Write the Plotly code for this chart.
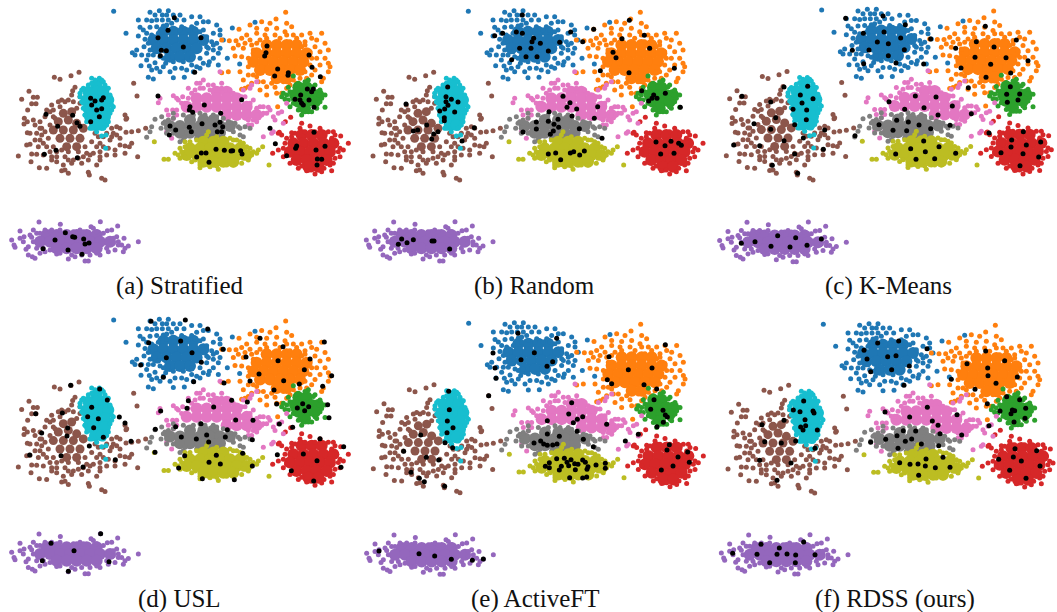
import plotly.graph_objects as go
from plotly.subplots import make_subplots

blue_pts = [(341,34),(378,100),(765,67),(697,84),(719,192),(478,32),(505,32),(487,45),(450,37),(415,60),(455,62),(470,60),(487,60),(420,82),(450,82),(470,80),(490,78),(415,108),(435,118),(432,140),(410,150),(397,158),(425,165),(445,165),(440,180),(423,197),(448,198),(465,188),(470,205),(445,232),(460,237),(490,200),(497,190),(520,233),(525,205),(545,205),(553,232),(580,215),(600,205),(575,195),(625,195),(628,185),(655,195),(640,175),(682,175),(655,160),(640,150),(620,160),(650,130),(635,125),(660,105),(650,75),(660,90),(625,65),(610,65),(590,70),(575,50),(552,60),(530,60),(515,70),(505,60),(455,105),(465,145),(480,170),(500,180),(520,185),(550,185),(575,175),(600,175),(620,140),(620,110),(610,90),(575,80),(545,80),(500,90),(475,100)]
blue_mid = [(440,100),(445,130),(450,150),(460,165),(475,155),(490,175),(505,170),(625,145),(640,135),(600,95),(585,90),(565,90),(540,90),(520,85),(500,75),(440,60),(430,90),(465,45),(500,45),(520,45),(540,45),(600,50),(640,100),(670,120),(660,145),(610,190),(590,200),(560,210),(510,215),(480,215),(455,210),(405,165)]
blue_core = [(490,95),(520,95),(550,95),(580,95),(460,120),(490,120),(520,120),(550,120),(580,120),(610,120),(470,145),(500,145),(530,145),(560,145),(590,145),(510,170),(540,170),(570,170)]

orange_pts = [(857,37),(785,65),(828,57),(717,88),(750,75),(665,120),(688,122),(708,122),(725,115),(740,105),(770,100),(800,88),(830,85),(875,80),(855,95),(880,105),(905,105),(930,100),(965,100),(935,115),(915,125),(945,140),(985,150),(960,155),(975,175),(950,175),(960,195),(990,200),(985,215),(945,210),(970,235),(965,245),(935,225),(920,235),(900,235),(880,240),(860,265),(830,280),(800,285),(780,270),(755,250),(745,260),(725,268),(735,265),(730,240),(720,215),(685,215),(665,218),(745,225),(770,230),(790,245),(725,170),(705,168),(730,145),(755,135),(780,120),(800,115),(840,115),(870,125),(905,140),(930,195),(905,215),(850,245),(815,250),(833,320)]
orange_mid = [(735,130),(750,120),(760,150),(745,175),(745,200),(760,225),(775,245),(800,260),(825,262),(845,280),(870,255),(890,250),(915,215),(935,175),(930,155),(915,135),(890,115),(860,105),(825,105),(795,105),(770,130),(950,120),(975,130),(985,190),(715,135),(700,145),(810,70),(860,70),(770,85)]
orange_core = [(800,135),(830,135),(860,135),(890,135),(770,160),(800,160),(830,160),(860,160),(890,160),(920,160),(760,185),(790,185),(820,185),(850,185),(880,185),(910,185),(780,210),(810,210),(840,210),(870,210),(900,210),(830,235),(860,235)]

green_pts = [(880,228),(925,240),(895,250),(865,262),(850,280),(845,290),(855,298),(880,298),(975,285),(965,295),(975,322),(950,325),(935,335),(905,345),(895,330),(870,320),(960,270),(945,255)]
green_mid = [(870,275),(860,285),(890,255),(915,245),(940,260),(958,285),(960,305),(945,320),(925,335),(900,325),(880,310),(865,300)]
green_core = [(895,262),(920,262),(885,285),(910,285),(935,285),(955,285),(895,305),(920,305),(945,305),(915,325)]

red_pts = [(872,352),(856,365),(905,370),(835,400),(818,460),(835,450),(850,470),(870,490),(895,505),(920,512),(945,522),(972,505),(995,512),(1000,490),(1020,470),(1020,445),(1045,430),(1022,408),(1005,405),(985,395),(960,385),(930,378),(900,385),(875,398),(855,430),(838,397)]
red_mid = [(860,415),(875,410),(885,400),(915,395),(945,395),(975,400),(995,415),(1010,430),(1015,455),(1005,475),(990,495),(965,515),(935,510),(905,498),(880,485),(860,460),(850,445),(1030,450),(1000,395),(845,405)]
red_core = [(905,405),(935,405),(965,405),(880,430),(910,430),(940,430),(970,430),(1000,430),(870,455),(900,455),(930,455),(960,455),(990,455),(890,480),(920,480),(950,480),(980,480),(925,500),(955,500)]

purple_pts = [(117,666),(181,673),(273,680),(301,665),(353,678),(322,692),(60,693),(100,690),(72,710),(35,720),(42,735),(45,742),(78,748),(85,765),(97,770),(105,775),(120,760),(135,755),(170,762),(205,777),(225,770),(255,783),(265,783),(300,765),(325,755),(345,750),(370,755),(385,738),(375,745),(415,725),(372,715),(350,710),(335,690),(280,685),(240,690),(135,690),(150,695),(95,712),(110,700),(70,725),(340,730),(355,725)]
purple_mid = [(90,705),(100,725),(110,745),(120,700),(130,745),(150,750),(180,760),(215,765),(245,765),(270,765),(290,760),(320,745),(340,715),(355,735),(310,700),(290,695),(250,695),(220,695),(180,690),(155,690),(365,735),(60,715),(85,740)]
purple_core = [(140,705),(170,705),(200,705),(230,705),(260,705),(290,705),(120,725),(150,725),(180,725),(210,725),(240,725),(270,725),(300,725),(330,725),(170,745),(200,745),(230,745),(260,745),(290,745)]

brown_pts = [(237,217),(213,227),(163,232),(180,238),(87,274),(100,292),(112,292),(65,298),(95,311),(108,311),(83,330),(73,355),(82,365),(72,372),(82,398),(80,435),(90,433),(55,468),(95,462),(110,463),(93,485),(118,503),(140,505),(130,465),(155,480),(185,512),(195,510),(205,520),(190,495),(215,490),(235,475),(265,517),(268,525),(305,535),(315,540),(290,495),(300,480),(320,465),(345,465),(345,450),(375,438),(395,430),(388,440),(413,470),(360,435),(350,405),(378,397),(395,395),(415,392),(437,385),(360,385),(335,385),(375,345),(378,358),(411,288),(401,250),(225,262),(218,272),(215,285),(175,305),(155,315),(150,335),(140,330),(120,365),(110,400),(140,440),(170,470),(260,460),(280,460),(300,430),(330,420),(350,380),(320,400),(125,385),(160,350)]
brown_mid = [(135,350),(120,385),(105,420),(115,440),(130,430),(150,455),(170,485),(195,470),(220,480),(250,470),(270,465),(300,455),(310,440),(325,445),(335,410),(310,410),(340,400),(195,305),(185,300),(160,330),(220,305),(240,290),(205,300),(290,440),(265,480),(245,490),(170,455),(300,470),(360,415),(380,355),(100,360),(90,400),(105,375),(375,460),(145,415),(125,405),(160,440),(185,450),(205,455),(235,455),(255,440),(275,425),(295,410),(285,400),(150,375),(165,355),(135,395),(180,320),(230,325),(240,310),(205,480),(155,470),(120,420)]
brown_core = [(190,340),(215,335),(175,365),(205,360),(230,370),(160,390),(190,390),(220,390),(250,385),(180,415),(210,415),(240,415),(200,440),(230,440)]

pink_pts = [(660,215),(610,240),(590,250),(565,265),(575,280),(520,287),(530,295),(475,308),(480,295),(500,330),(518,330),(530,345),(555,310),(548,290),(600,265),(630,270),(665,250),(690,270),(750,265),(770,245),(755,255),(735,290),(760,300),(780,320),(805,322),(790,340),(770,345),(760,360),(745,375),(820,350),(835,340),(845,335),(860,310),(825,360),(790,410),(815,400),(820,395),(850,370),(810,330),(515,415),(500,395),(530,395)]
pink_mid = [(530,330),(545,310),(565,295),(585,270),(610,265),(640,255),(665,265),(700,280),(725,290),(750,310),(770,325),(785,345),(770,365),(755,375),(745,360),(520,355),(505,345),(535,300),(600,250),(625,255),(730,270),(790,320),(800,340)]
pink_core = [(650,275),(680,275),(590,295),(620,295),(650,295),(680,295),(710,295),(560,320),(590,320),(620,320),(650,320),(680,320),(710,320),(740,320),(680,345),(710,345),(740,345),(770,345)]

gray_pts = [(440,412),(450,395),(455,380),(465,358),(485,350),(490,370),(483,385),(520,340),(600,340),(640,345),(670,355),(705,370),(735,380),(750,385),(720,405),(730,410),(540,425),(550,420),(500,400)]
gray_mid = [(495,365),(505,360),(520,355),(550,345),(580,345),(615,345),(650,350),(685,365),(715,380),(500,385),(520,400),(555,410),(590,415),(625,410),(660,405),(700,395),(720,385)]
gray_core = [(570,360),(610,360),(640,360),(510,378),(540,378),(570,378),(600,378),(630,378),(660,378),(690,378),(540,398),(570,398),(600,398),(630,398),(660,398)]

olive_pts = [(463,425),(492,478),(505,478),(807,495),(788,440),(775,450),(770,460),(755,465),(745,480),(725,490),(700,495),(655,508),(630,500),(600,503),(575,485),(540,475),(525,460),(540,445),(555,425),(625,395),(700,420),(740,440),(720,425)]
olive_mid = [(545,455),(555,440),(570,425),(590,420),(585,480),(600,495),(625,495),(650,498),(680,495),(710,480),(730,475),(745,465),(760,455),(750,445),(730,430),(710,420),(690,415),(650,410),(620,405),(535,465),(555,470)]
olive_core = [(610,425),(640,425),(670,425),(570,445),(600,445),(630,445),(660,445),(690,445),(720,445),(560,465),(590,465),(620,465),(650,465),(680,465),(710,465),(740,465),(610,485),(640,485),(670,485),(700,485)]

cyan_pts = [(305,408),(318,405),(317,445),(340,320),(298,235),(275,235),(310,245),(240,280),(322,265),(250,265),(330,290),(335,330),(320,375),(250,310),(255,345),(270,385)]
cyan_mid = [(245,270),(240,290),(245,305),(250,325),(255,345),(260,365),(275,385),(290,395),(310,385),(325,365),(330,340),(335,315),(330,285),(325,265),(315,255),(275,250),(265,255),(285,240),(305,240)]
cyan_core = [(290,255),(265,275),(290,275),(310,275),(260,300),(285,300),(310,300),(325,300),(265,325),(290,325),(315,325),(270,350),(295,350),(315,350),(285,375),(305,375)]

clusters = [(blue_pts + blue_mid, blue_core), (orange_pts + orange_mid, orange_core), (green_pts + green_mid, green_core),
            (red_pts + red_mid, red_core), (purple_pts + purple_mid, purple_core), (brown_pts + brown_mid, brown_core),
            (pink_pts + pink_mid, pink_core), (gray_pts + gray_mid, gray_core), (olive_pts + olive_mid, olive_core),
            (cyan_pts + cyan_mid, cyan_core)]
colors = ["#1f77b4", "#ff7f0e", "#2ca02c", "#d62728", "#9467bd", "#8c564b", "#e377c2", "#7f7f7f", "#bcbd22", "#17becf"]
core_sizes = [12, 12, 12, 12, 12, 9, 12, 12, 12, 12]

black_a = [(523,53),(504,91),(474,113),(603,113),(550,141),(484,151),(499,152),(481,167),(584,217),(801,138),(798,158),(794,168),(927,165),(936,202),(833,207),(824,228),(865,218),(864,226),(961,230),(922,267),(940,267),(935,275),(885,298),(902,285),(927,300),(900,300),(905,310),(910,315),(942,322),(725,299),(474,288),(570,320),(568,330),(578,337),(613,315),(662,340),(510,378),(527,390),(568,382),(574,395),(606,371),(645,375),(660,367),(668,380),(652,395),(665,395),(508,405),(810,385),(826,431),(942,397),(890,438),(887,445),(948,450),(975,439),(952,477),(965,478),(951,495),(860,467),(648,448),(673,451),(693,453),(698,452),(722,452),(726,462),(590,471),(604,459),(618,459),(627,487),(272,295),(310,293),(285,303),(275,315),(305,300),(290,330),(305,326),(298,350),(272,365),(138,343),(218,346),(231,368),(240,379),(173,379),(168,451),(133,463),(232,473),(196,698),(165,720),(218,710),(224,712),(251,717),(255,732),(267,729),(129,746),(204,750),(246,763)]
black_b = [(511,45),(428,107),(452,100),(493,96),(511,100),(656,96),(692,125),(623,127),(545,115),(540,125),(565,130),(503,145),(537,145),(589,153),(479,179),(522,170),(555,170),(725,88),(832,61),(877,106),(810,116),(783,157),(792,173),(893,145),(967,205),(745,212),(831,218),(869,272),(905,285),(900,295),(890,303),(915,295),(940,280),(985,322),(633,289),(654,308),(645,322),(674,327),(737,320),(727,355),(591,335),(589,364),(553,366),(618,358),(660,348),(606,373),(620,382),(553,387),(604,393),(595,403),(513,396),(682,386),(750,415),(912,426),(957,424),(939,437),(980,430),(988,436),(926,462),(966,460),(697,453),(683,465),(665,455),(655,459),(611,459),(589,462),(626,479),(287,261),(282,290),(298,298),(318,306),(282,305),(288,316),(278,327),(263,333),(308,336),(277,353),(277,362),(162,312),(224,375),(197,390),(184,393),(258,395),(245,402),(239,417),(367,383),(330,423),(149,717),(184,719),(165,728),(139,733),(240,723),(246,723),(293,747)]
black_c = [(425,55),(537,48),(604,74),(478,100),(540,96),(590,114),(520,126),(553,131),(680,117),(445,151),(495,150),(601,149),(553,167),(576,189),(479,191),(659,192),(844,79),(937,120),(817,125),(870,141),(755,145),(813,172),(906,173),(972,182),(860,193),(771,204),(920,219),(846,232),(793,263),(919,260),(947,282),(942,300),(908,283),(910,307),(634,288),(696,291),(555,305),(660,323),(745,318),(602,328),(702,345),(802,341),(525,374),(578,361),(613,366),(645,375),(680,386),(738,376),(567,391),(608,392),(453,407),(855,399),(958,395),(923,420),(921,441),(967,435),(1010,426),(891,458),(957,461),(1004,471),(948,497),(659,423),(705,440),(620,446),(664,455),(755,460),(575,462),(636,478),(692,476),(311,259),(289,285),(327,296),(294,309),(267,328),(308,330),(307,359),(272,374),(240,261),(114,289),(200,306),(215,353),(150,371),(200,388),(362,390),(298,414),(240,422),(167,437),(89,435),(358,448),(272,462),(205,496),(281,520),(221,707),(275,713),(153,725),(112,730),(352,717),(201,739),(258,741),(309,736)]
black_d = [(453,49),(556,45),(623,72),(446,113),(542,108),(576,143),(499,158),(604,172),(669,133),(422,180),(490,217),(581,230),(780,100),(973,111),(849,125),(738,156),(834,167),(930,162),(777,207),(913,194),(995,212),(750,228),(851,227),(672,234),(898,237),(968,244),(822,255),(830,297),(908,296),(892,309),(926,305),(914,317),(983,299),(987,338),(742,291),(695,286),(565,287),(561,310),(482,318),(641,306),(707,345),(759,346),(603,356),(527,365),(466,373),(682,374),(838,357),(878,367),(544,396),(589,402),(620,390),(626,411),(676,396),(757,404),(465,442),(393,409),(960,401),(1031,425),(910,447),(951,467),(1023,487),(874,497),(941,528),(832,449),(649,451),(728,445),(554,452),(627,472),(661,477),(757,483),(536,489),(607,521),(703,524),(299,252),(275,307),(322,285),(263,335),(295,341),(281,368),(310,397),(268,423),(212,241),(107,326),(187,324),(358,336),(375,354),(203,369),(201,393),(125,384),(89,450),(183,452),(346,464),(249,486),(302,686),(153,715),(222,737),(127,767),(327,770),(205,799)]
black_e = [(498,85),(614,100),(423,144),(547,143),(507,164),(602,170),(585,184),(429,189),(432,220),(940,119),(771,155),(900,189),(829,194),(766,224),(779,236),(876,239),(914,252),(906,284),(896,313),(933,316),(940,330),(946,336),(934,352),(915,365),(859,388),(820,408),(410,272),(659,293),(650,327),(692,335),(676,343),(664,353),(586,347),(764,358),(675,379),(586,387),(622,394),(694,403),(546,414),(566,408),(575,417),(586,421),(602,420),(615,417),(724,425),(952,419),(945,435),(1007,441),(978,456),(1012,472),(963,483),(928,495),(614,461),(637,460),(657,464),(592,473),(580,484),(592,488),(628,484),(622,495),(645,472),(650,482),(668,476),(678,478),(692,465),(700,472),(708,485),(705,493),(670,494),(732,480),(760,475),(760,490),(653,518),(692,519),(704,516),(290,259),(292,314),(286,348),(303,368),(285,383),(279,413),(302,428),(206,390),(155,439),(223,457),(260,465),(177,502),(202,520),(217,530),(278,544),(81,738),(201,746),(248,753),(298,763),(361,766),(394,762)]
black_f = [(521,114),(584,108),(669,131),(480,136),(489,162),(551,155),(576,152),(616,183),(563,194),(500,200),(600,241),(845,138),(789,176),(902,167),(851,189),(852,212),(940,216),(742,223),(876,235),(813,253),(850,296),(908,275),(947,284),(888,318),(925,315),(932,317),(965,310),(921,326),(963,340),(930,351),(855,362),(543,321),(670,307),(617,336),(759,329),(685,348),(702,361),(708,386),(773,390),(598,377),(635,378),(579,392),(545,403),(623,402),(604,409),(652,417),(500,412),(704,422),(582,430),(933,431),(998,437),(928,456),(884,463),(952,468),(1008,483),(917,496),(966,520),(666,462),(717,457),(587,473),(618,478),(642,477),(664,483),(694,488),(738,487),(644,511),(299,288),(268,315),(288,320),(327,318),(330,324),(303,344),(305,362),(290,366),(297,375),(340,375),(174,359),(240,346),(275,408),(182,410),(232,414),(333,430),(167,466),(261,474),(219,526),(299,711),(171,718),(226,729),(86,745),(159,748),(219,748),(249,747),(275,750),(333,749),(197,773),(274,773)]
black_sets = [black_a, black_b, black_c, black_d, black_e, black_f]

captions = ["(a) Stratified", "(b) Random", "(c) K-Means", "(d) USL", "(e) ActiveFT", "(f) RDSS (ours)"]
caption_x = [179.5, 534.5, 888, 179.5, 535, 895]
caption_y = [286, 286, 286, 599, 599, 599]
# each panel of the source was placed slightly differently: x shift, y scale, y shift
panel_dx = [0, 8, 12, 0, 9, 17]
panel_sy = [1.0, 1.0, 1.008, 1.016, 1.005, 1.0]
panel_dy = [0, 0, -4.3, 10.5, 20.8, 24]

W, H = 1057, 612
fig = make_subplots(rows=2, cols=3, horizontal_spacing=0, vertical_spacing=0)
for i in range(6):
    r, c = i // 3 + 1, i % 3 + 1
    dx, sy, dy = panel_dx[i], panel_sy[i], panel_dy[i]
    for (pts, core), col, cs in zip(clusters, colors, core_sizes):
        fig.add_trace(go.Scatter(x=[p[0] + dx for p in core], y=[p[1] * sy + dy for p in core], mode="markers",
                                 marker=dict(size=cs, color=col), cliponaxis=False, hoverinfo="skip"), row=r, col=c)
        fig.add_trace(go.Scatter(x=[p[0] + dx for p in pts], y=[p[1] * sy + dy for p in pts], mode="markers",
                                 marker=dict(size=5, color=col), cliponaxis=False, hoverinfo="skip"), row=r, col=c)
    fig.add_trace(go.Scatter(x=[p[0] for p in black_sets[i]], y=[p[1] for p in black_sets[i]], mode="markers",
                             marker=dict(size=5, color="#000000"), cliponaxis=False, hoverinfo="skip"), row=r, col=c)
    x0 = 352 * (c - 1)
    y0 = 305 * (r - 1)
    fig.update_xaxes(range=[0, 1056], domain=[x0 / W, (x0 + 352) / W], visible=False, row=r, col=c)
    fig.update_yaxes(range=[915, 0], domain=[1 - (y0 + 305) / H, 1 - y0 / H], visible=False, row=r, col=c)
    fig.add_annotation(x=caption_x[i] / W, y=1 - caption_y[i] / H, xref="paper", yref="paper", text=captions[i],
                       showarrow=False, xanchor="center", yanchor="middle",
                       font=dict(family="Liberation Serif", size=25, color="#111111"))

fig.update_layout(width=W, height=H, margin=dict(l=0, r=0, t=0, b=0), showlegend=False,
                  paper_bgcolor="white", plot_bgcolor="white")
fig.write_html("out.html", config={"displayModeBar": False}, post_script="document.body.style.margin='0';")
